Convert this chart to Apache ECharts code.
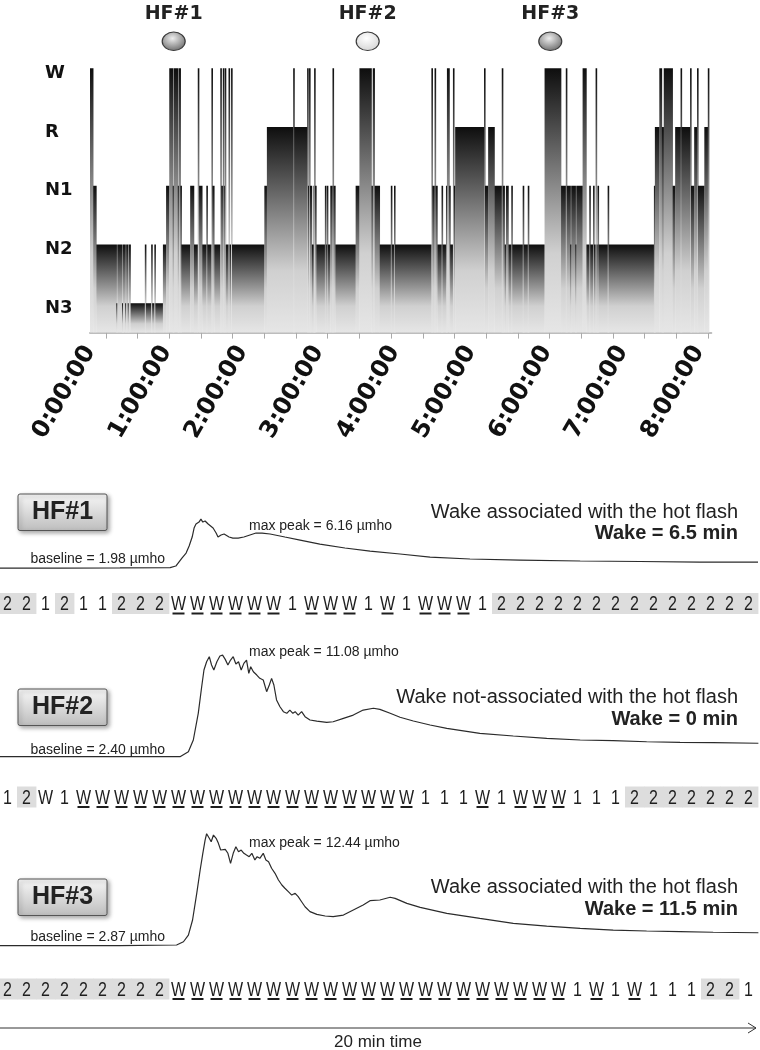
<!DOCTYPE html>
<html><head><meta charset="utf-8">
<script src="https://cdn.jsdelivr.net/npm/echarts@6/dist/echarts.min.js"></script>
<style>html,body{margin:0;padding:0;background:#fff}#c{width:760px;height:1050px}</style>
</head><body><div id="c"></div>
<script>
// ---------------- DATA ----------------
// hypnogram: [start minute, stage]; each run lasts until the next start
const stageLabels = ['N3', 'N2', 'N1', 'R', 'W'];            // levels 1..5
const timeTickLabels = ['0:00:00','1:00:00','2:00:00','3:00:00','4:00:00','5:00:00','6:00:00','7:00:00','8:00:00'];
const hypnoEnd = 488;
const hypnoRuns = [
  [0,'W'],[2.5,'N1'],[5,'N2'],[21,'N3'],[21.5,'N2'],[25.5,'N3'],[26,'N2'],[28,'N3'],[28.5,'N2'],[30,'N3'],[30.5,'N2'],
  [32,'N3'],[43.5,'N2'],[44,'N3'],[48.5,'N2'],[49,'N3'],[51,'N2'],[51.5,'N3'],[57.5,'N2'],[60,'N1'],[62.5,'W'],
  [65.5,'N1'],[66,'W'],[69.5,'N1'],[70,'W'],[71.5,'N1'],[72,'N2'],[79,'N1'],[82,'N2'],[85,'W'],[86,'N1'],[88.5,'N2'],
  [92,'N1'],[92.5,'N2'],[96,'W'],[96.5,'N1'],[98,'N2'],[103,'W'],[103.5,'N1'],[105,'W'],[105.5,'N1'],[106.5,'W'],
  [107,'N2'],[109.5,'W'],[110,'N2'],[111.5,'W'],[112,'N2'],[137.5,'N1'],[139.5,'R'],[160.5,'W'],[161,'R'],
  [171.5,'W'],[172,'N1'],[173,'W'],[173.5,'N1'],[175,'N2'],[176.5,'N1'],[177,'W'],[177.5,'N1'],[178.5,'N2'],
  [185.5,'N1'],[186,'N2'],[187,'N1'],[187.5,'N2'],[189.5,'N1'],[191.5,'W'],[192,'N1'],[193.5,'N2'],[209.5,'N1'],
  [212.5,'W'],[222,'N1'],[223,'W'],[224.5,'N1'],[228.5,'N2'],[237.5,'N1'],[238,'N2'],[240,'N1'],[240.5,'N2'],
  [269.5,'W'],[270,'N1'],[272,'W'],[272.5,'N1'],[274,'N2'],[277.5,'N1'],[278,'N2'],[281,'N1'],[281.5,'W'],
  [283.5,'N1'],[284,'N2'],[286.5,'W'],[287,'N1'],[288,'R'],[311,'W'],[311.5,'N1'],[314,'R'],[319,'N1'],[325,'W'],
  [325.5,'N1'],[327,'N2'],[328,'N1'],[330,'N2'],[332.5,'N1'],[333,'N2'],[341.5,'N1'],[342,'N2'],[345.5,'N1'],
  [346,'N2'],[358.5,'W'],[371.5,'N1'],[375.5,'W'],[376,'N1'],[379,'N2'],[379.5,'N1'],[383,'N2'],[383.5,'N1'],
  [388.5,'W'],[391.5,'N2'],[394,'N1'],[394.5,'N2'],[397,'N1'],[397.5,'N2'],[399,'W'],[399.5,'N2'],[400.5,'N1'],
  [401,'N2'],[408.5,'N1'],[409,'N2'],[445,'N1'],[445.5,'R'],[449,'W'],[451,'R'],[452.5,'W'],[459.5,'N1'],
  [461.5,'R'],[466,'W'],[466.5,'R'],[473.5,'W'],[474,'N1'],[476.5,'R'],[479,'W'],[479.5,'N1'],[484.5,'R'],[487.5,'W']
];
// hot flash markers (minutes into the night)
const hfNames = ['HF#1', 'HF#2', 'HF#3'];
const hfTimes = [66, 219, 363];
const hfAssociated = [1, 0, 1];

// skin conductance (minutes within the 20-min window, µmho)
const eda1Time  = [0.05,1.63,3.21,4.53,4.68,4.84,4.95,5.03,5.11,5.16,5.21,5.29,5.34,5.39,5.45,5.53,5.58,5.66,5.74,5.79,5.87,5.95,6.00,6.08,6.18,6.32,6.47,6.63,6.79,6.95,7.16,7.55,7.95,8.47,9.13,9.79,10.58,11.37,12.42,13.74,15.32,16.89,18.47,20.0];
const eda1Value = [1.98,1.98,1.99,2.02,2.15,2.83,3.26,3.86,4.63,5.40,5.74,5.91,6.16,5.91,6.00,5.74,5.91,5.40,4.97,4.63,4.80,4.89,4.97,4.63,4.54,4.54,4.63,4.80,4.97,4.97,4.89,4.63,4.37,4.03,3.69,3.43,3.18,2.92,2.75,2.66,2.58,2.54,2.49,2.49];
const eda2Time  = [0.05,1.63,3.21,4.79,5.01,5.14,5.27,5.36,5.42,5.49,5.56,5.62,5.68,5.76,5.84,5.91,5.98,6.05,6.12,6.19,6.26,6.33,6.40,6.47,6.54,6.60,6.65,6.72,6.81,6.89,6.98,7.07,7.14,7.20,7.26,7.33,7.42,7.51,7.60,7.68,7.76,7.82,7.90,7.99,8.08,8.21,8.39,8.65,8.82,9.09,9.35,9.61,9.88,10.05,10.32,10.58,10.93,11.37,11.81,12.68,13.56,14.44,15.32,16.19,17.07,17.95,18.82,20.01];
const eda2Value = [2.40,2.40,2.40,2.40,2.83,3.83,6.11,8.38,9.81,10.52,10.95,10.24,9.81,10.52,11.01,11.08,10.72,10.24,10.66,10.95,10.32,10.52,9.81,10.38,10.66,9.53,10.09,9.66,9.38,9.10,8.96,7.96,8.53,9.10,8.53,7.25,6.67,6.25,6.11,6.39,6.11,6.25,5.96,6.25,5.82,5.54,5.45,5.34,5.39,5.68,5.96,6.39,6.54,6.45,6.11,5.77,5.45,5.11,4.83,4.40,4.17,3.97,3.83,3.77,3.68,3.63,3.60,3.55];
const eda3Time  = [0.05,1.63,3.21,4.70,4.88,5.01,5.12,5.23,5.32,5.39,5.45,5.49,5.56,5.61,5.67,5.74,5.80,5.86,5.91,5.98,6.05,6.12,6.19,6.26,6.33,6.40,6.47,6.54,6.61,6.68,6.76,6.82,6.89,6.98,7.05,7.12,7.20,7.29,7.38,7.47,7.55,7.64,7.73,7.82,7.90,7.99,8.08,8.21,8.39,8.61,8.82,9.09,9.35,9.61,9.79,10.05,10.32,10.45,10.76,11.11,11.81,12.68,13.56,14.44,15.32,16.19,17.07,17.95,18.82,20.01];
const eda3Value = [2.87,2.87,2.87,2.93,3.21,3.78,5.07,7.35,9.34,10.77,11.90,12.44,12.05,11.76,12.33,12.05,11.62,11.05,10.90,11.11,10.77,9.91,10.77,11.33,10.90,11.05,10.77,10.62,10.48,10.77,10.20,10.48,10.34,10.77,10.20,10.05,9.49,9.06,8.49,8.06,7.78,7.49,7.20,7.35,7.06,6.63,6.20,5.78,5.55,5.41,5.35,5.49,5.92,6.35,6.72,6.78,7.01,6.92,6.49,6.15,5.64,5.21,4.78,4.55,4.36,4.21,4.13,4.07,4.02,3.98];

// 30-s epoch scoring for each 20-min window
const row1Stages = ['2','2','1','2','1','1','2','2','2','W','W','W','W','W','W','1','W','W','W','1','W','1','W','W','W','1','2','2','2','2','2','2','2','2','2','2','2','2','2','2'];
const row1Underlined = [9,10,11,12,13,14,16,17,18,20,22,23,24];
const row2Stages = ['1','2','W','1','W','W','W','W','W','W','W','W','W','W','W','W','W','W','W','W','W','W','1','1','1','W','1','W','W','W','1','1','1','2','2','2','2','2','2','2'];
const row2Underlined = [4,5,6,7,8,9,10,11,12,13,14,15,16,17,18,19,20,21,25,27,28,29];
const row3Stages = ['2','2','2','2','2','2','2','2','2','W','W','W','W','W','W','W','W','W','W','W','W','W','W','W','W','W','W','W','W','W','1','W','1','W','1','1','1','2','2','1'];
const row3Underlined = [9,10,11,12,13,14,15,16,17,18,19,20,21,22,23,24,25,26,27,28,29,31,33];

const panelBaseline = ['baseline = 1.98 µmho', 'baseline = 2.40 µmho', 'baseline = 2.87 µmho'];
const panelPeak = ['max peak = 6.16 µmho', 'max peak = 11.08 µmho', 'max peak = 12.44 µmho'];
const panelNote = ['Wake associated with the hot flash', 'Wake not-associated with the hot flash', 'Wake associated with the hot flash'];
const panelWake = ['Wake = 6.5 min', 'Wake = 0 min', 'Wake = 11.5 min'];

// ---------------- CHART ----------------
const chart = echarts.init(document.getElementById('c'));
const LEVEL = {N3: 1, N2: 2, N1: 3, R: 4, W: 5};
const segs = hypnoRuns.map((r, i) => [r[0], i < hypnoRuns.length - 1 ? hypnoRuns[i + 1][0] : hypnoEnd, LEVEL[r[1]]]);
const EPOCH = 0.5;
const SANS = '"Liberation Sans", Arial, sans-serif';
const WIDE = '"DejaVu Sans", sans-serif';

function barFill() {
  return new echarts.graphic.LinearGradient(0, 0, 0, 1, [
    {offset: 0, color: '#0e0e0e'}, {offset: 0.7, color: '#d0d0d0'}, {offset: 1, color: '#e6e6e6'}]);
}

const edaGrids = [{top: 474.2, height: 117, max: 10}, {top: 644.4, height: 140.4, max: 12}, {top: 827.2, height: 152.1, max: 13}];
const rowGrids = [{top: 593, height: 21}, {top: 786.5, height: 21}, {top: 978.5, height: 21}];

const grids = [{left: 90, top: 68.3, width: 621.3, height: 264.3, outerBoundsMode: 'none'}];
edaGrids.forEach(g => grids.push({left: -2, width: 760, top: g.top, height: g.height, outerBoundsMode: 'none'}));
rowGrids.forEach(g => grids.push({left: -2, width: 760, top: g.top, height: g.height, outerBoundsMode: 'none'}));

const xAxes = [{
  gridIndex: 0, type: 'value', min: 0, max: 490,
  axisLine: {show: true, lineStyle: {color: '#bdbdbd', width: 2}},
  axisTick: {show: true, length: 6, lineStyle: {color: '#aaaaaa', width: 1},
             customValues: Array.from({length: 20}, (_, k) => 12.5 + 25 * k)},
  axisLabel: {customValues: timeTickLabels.map((_, i) => i * 60),
              formatter: v => timeTickLabels[Math.round(v / 60)],
              rotate: 60, margin: 15, color: '#111', fontFamily: WIDE, fontWeight: 'bold', fontSize: 24},
  splitLine: {show: false}
}];
const yAxes = [{
  gridIndex: 0, type: 'value', min: 0.5, max: 5,
  axisLine: {show: false}, axisTick: {show: false}, splitLine: {show: false},
  axisLabel: {customValues: [1, 2, 3, 4, 5], formatter: v => stageLabels[Math.round(v) - 1],
              align: 'left', verticalAlign: 'top', lineHeight: 10, margin: 45,
              color: '#111', fontFamily: WIDE, fontWeight: 'bold', fontSize: 18}
}];
edaGrids.forEach((g, k) => {
  xAxes.push({gridIndex: 1 + k, type: 'value', min: 0, max: 20, show: false});
  yAxes.push({gridIndex: 1 + k, type: 'value', min: 0, max: g.max, show: false});
});
rowGrids.forEach((g, k) => {
  xAxes.push({gridIndex: 4 + k, type: 'value', min: 0, max: 20, show: false});
  yAxes.push({gridIndex: 4 + k, type: 'value', min: 0, max: 1, show: false});
});

const series = [];
series.push({
  type: 'custom', xAxisIndex: 0, yAxisIndex: 0, data: segs, encode: {x: [0, 1], y: 2}, silent: true,
  renderItem: (params, api) => {
    const p1 = api.coord([api.value(0), api.value(2)]);
    const p2 = api.coord([api.value(1), 0.5]);
    let x = p1[0], w = p2[0] - p1[0];
    if (w < 1.3) { x -= (1.3 - w) / 2; w = 1.3; }
    return {type: 'rect', shape: {x: x, y: p1[1], width: w + 0.3, height: p2[1] - p1[1]}, style: {fill: barFill()}};
  }
});
series.push({
  type: 'custom', xAxisIndex: 0, yAxisIndex: 0, clip: false, silent: true,
  data: hfTimes.map((t, i) => [t, 5]),
  renderItem: (params, api) => {
    const p = api.coord([api.value(0), api.value(1)]);
    const assoc = hfAssociated[params.dataIndex];
    const fill = new echarts.graphic.RadialGradient(0.45, 0.35, 0.7, assoc
      ? [{offset: 0, color: '#eeeeee'}, {offset: 1, color: '#666666'}]
      : [{offset: 0, color: '#ffffff'}, {offset: 1, color: '#d2d2d2'}]);
    return {type: 'group', children: [
      {type: 'circle', x: p[0], y: p[1] - 27, scaleY: 0.8, shape: {cx: 0, cy: 0, r: 11.5},
       style: {fill: fill, stroke: '#3a3a3a', lineWidth: 1.2}},
      {type: 'text', x: p[0], y: p[1] - 54,
       style: {text: hfNames[params.dataIndex], x: 0, y: 0, align: 'center', verticalAlign: 'middle',
               font: 'bold 19px ' + WIDE, fill: '#222'}}
    ]};
  }
});
[[eda1Time, eda1Value], [eda2Time, eda2Value], [eda3Time, eda3Value]].forEach((d, k) => {
  series.push({
    type: 'line', xAxisIndex: 1 + k, yAxisIndex: 1 + k, silent: true, symbol: 'none', showSymbol: false,
    data: d[0].map((t, i) => [t, d[1][i]]), lineStyle: {color: '#2b2b2b', width: 1.2}
  });
});
[[row1Stages, row1Underlined], [row2Stages, row2Underlined], [row3Stages, row3Underlined]].forEach((r, k) => {
  const stages = r[0], under = r[1];
  series.push({
    type: 'custom', xAxisIndex: 4 + k, yAxisIndex: 4 + k, silent: true, clip: false,
    data: stages.map((s, i) => [i * EPOCH + EPOCH / 2, 0.5]),
    renderItem: (params, api) => {
      const i = params.dataIndex, s = stages[i];
      const c = api.coord([api.value(0), api.value(1)]);
      const w = api.size([EPOCH, 0])[0];
      const cs = params.coordSys;
      const ch = [];
      if (s === '2') ch.push({type: 'rect', shape: {x: c[0] - w / 2, y: cs.y, width: w + 0.4, height: cs.height}, style: {fill: '#dddddd'}});
      ch.push({type: 'text', x: c[0], y: c[1] + 1, scaleX: 0.8,
               style: {text: s, x: 0, y: 0, align: 'center', verticalAlign: 'middle', font: '20px ' + SANS, fill: '#1e1e1e'}});
      if (under.indexOf(i) >= 0) ch.push({type: 'rect', shape: {x: c[0] - 6, y: c[1] + 9, width: 12, height: 2}, style: {fill: '#1e1e1e'}});
      return {type: 'group', children: ch};
    }
  });
});

// annotations
const panelTop = [494, 689, 879];
const baseY = [559, 750, 937.5];
const peakY = [526.5, 651.7, 843];
const noteY = [512.5, 697.5, 887.5];
const wakeY = [533, 719, 909];
const graphic = [];
panelTop.forEach((top, k) => {
  graphic.push({type: 'rect', shape: {x: 18, y: top, width: 89, height: 36.5, r: 2}, z: 10,
    style: {fill: new echarts.graphic.LinearGradient(0, 0, 0, 1, [{offset: 0, color: '#f8f8f8'}, {offset: 1, color: '#bdbdbd'}]),
            stroke: '#555', lineWidth: 1, shadowBlur: 4, shadowOffsetX: 2, shadowOffsetY: 2, shadowColor: 'rgba(0,0,0,0.35)'}});
  graphic.push({type: 'text', x: 62.5, y: top + 18.5, z: 11,
    style: {text: hfNames[k], align: 'center', verticalAlign: 'middle', font: 'bold 25px ' + SANS, fill: '#222'}});
  graphic.push({type: 'text', x: 30.5, y: baseY[k], z: 11,
    style: {text: panelBaseline[k], align: 'left', verticalAlign: 'middle', font: '14px ' + SANS, fill: '#222'}});
  graphic.push({type: 'text', x: 249, y: peakY[k], z: 11,
    style: {text: panelPeak[k], align: 'left', verticalAlign: 'middle', font: '14px ' + SANS, fill: '#222'}});
  graphic.push({type: 'text', x: 738, y: noteY[k], z: 11,
    style: {text: panelNote[k], align: 'right', verticalAlign: 'middle', font: '20px ' + SANS, fill: '#222'}});
  graphic.push({type: 'text', x: 738, y: wakeY[k], z: 11,
    style: {text: panelWake[k], align: 'right', verticalAlign: 'middle', font: 'bold 20px ' + SANS, fill: '#222'}});
});
graphic.push({type: 'polyline', shape: {points: [[0, 1028], [756, 1028]]}, style: {stroke: '#333', lineWidth: 1}});
graphic.push({type: 'polyline', shape: {points: [[748, 1023], [756, 1028], [748, 1033]]}, style: {stroke: '#333', lineWidth: 1, fill: null}});
graphic.push({type: 'text', x: 378, y: 1042, style: {text: '20 min time', align: 'center', verticalAlign: 'middle', font: '17px ' + SANS, fill: '#222'}});

chart.setOption({
  animation: false, backgroundColor: '#fff',
  textStyle: {fontFamily: SANS},
  grid: grids, xAxis: xAxes, yAxis: yAxes, series: series, graphic: graphic
});
</script></body></html>
